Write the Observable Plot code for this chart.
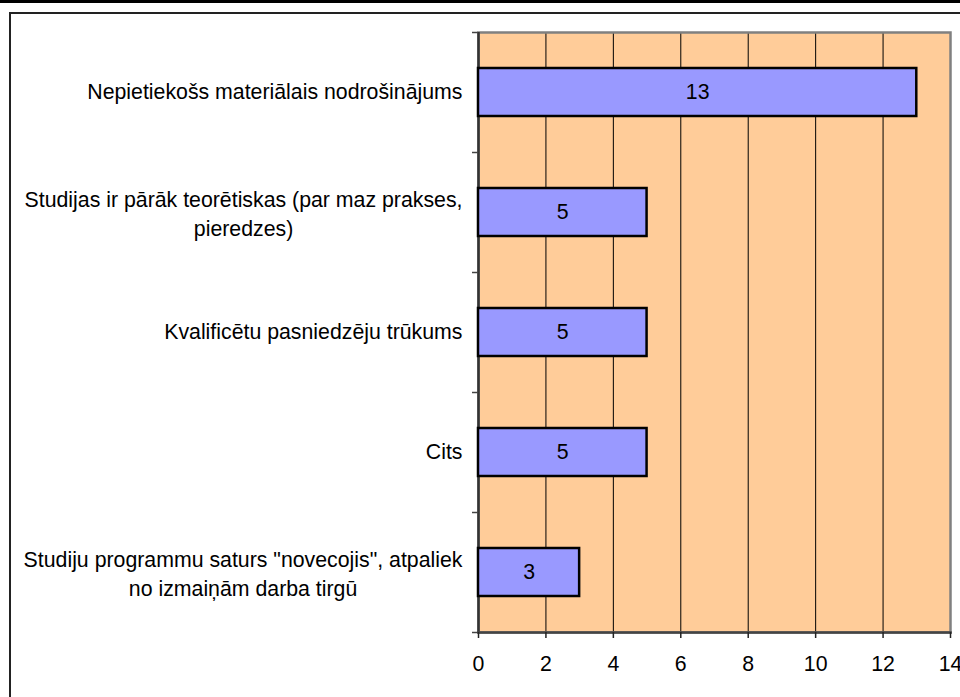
<!DOCTYPE html>
<html>
<head>
<meta charset="utf-8">
<script src="https://cdn.jsdelivr.net/npm/d3@7"></script>
<script src="https://cdn.jsdelivr.net/npm/@observablehq/plot@0.6"></script>
<style>
  html, body { margin: 0; padding: 0; background: #fff; overflow: hidden; }
  #wrap { position: relative; width: 960px; height: 697px; }
  #chart { position: absolute; left: 0; top: 0; }
  .topbar { position: absolute; left: 0; top: 0; width: 960px; height: 3px; background: #000; }
  .box { position: absolute; left: 9px; top: 12px; width: 1000px; height: 1000px;
         border-top: 2px solid #222; border-left: 2px solid #222; box-sizing: border-box; }
</style>
</head>
<body>
<div id="wrap">
  <div id="chart"></div>
  <div class="topbar"></div>
  <div class="box"></div>
</div>
<script>
const categories = [
  "Nepietiekošs materiālais nodrošinājums",
  "Studijas ir pārāk teorētiskas (par maz prakses,\npieredzes)",
  "Kvalificētu pasniedzēju trūkums",
  "Cits",
  "Studiju programmu saturs \"novecojis\", atpaliek\nno izmaiņām darba tirgū"
];
const values = [13, 5, 5, 5, 3];
const xTicks = [0, 2, 4, 6, 8, 10, 12, 14];
const gridTicks = [2, 4, 6, 8, 10, 12];

const data = categories.map((c, i) => ({category: c, value: values[i]}));

const FONT = "'Liberation Sans', Arial, sans-serif";
const FS = 21.3;
const ctx = document.createElement("canvas").getContext("2d");
ctx.font = `${FS}px ${FONT}`;
const gap = 16;

const labelMarks = categories.map(c => {
  const lines = c.split("\n");
  if (lines.length === 1) {
    return Plot.text([c], {y: d => d, text: d => d, frameAnchor: "left", textAnchor: "end", dx: -gap, fontSize: FS, fill: "#000"});
  }
  const w = Math.max(...lines.map(l => ctx.measureText(l).width));
  return Plot.text([c], {y: d => d, text: d => d, frameAnchor: "left", textAnchor: "middle", dx: -gap - w / 2, lineHeight: 1.33, fontSize: FS, fill: "#000"});
});

const last = categories[categories.length - 1];

const chart = Plot.plot({
  width: 960,
  height: 697,
  marginLeft: 478,
  marginRight: 10,
  marginTop: 32,
  marginBottom: 65,
  style: {fontFamily: FONT, fontSize: FS + "px", color: "#000", background: "transparent", overflow: "visible"},
  x: {domain: [0, 14], axis: null, label: null},
  y: {domain: categories, paddingInner: 0.6, paddingOuter: 0.3, axis: null, label: null},
  marks: [
    Plot.frame({fill: "#FFCC99"}),
    Plot.ruleX(gridTicks, {stroke: "#000", strokeWidth: 1}),
    Plot.frame({stroke: "#808080", strokeWidth: 2.5}),
    Plot.ruleX([0], {stroke: "#333", strokeWidth: 2.5}),
    Plot.frame({anchor: "bottom", stroke: "#444", strokeWidth: 2.5}),
    Plot.axisY(categories, {tickSize: 6, tickFormat: null, label: null, dy: -60, stroke: "#444", strokeWidth: 1.5}),
    Plot.axisY([last], {tickSize: 6, tickFormat: null, label: null, dy: 60, stroke: "#444", strokeWidth: 1.5}),
    Plot.axisX(xTicks, {tickSize: 6, tickPadding: 17, label: null, fontSize: FS, stroke: "#222", strokeWidth: 1.5, fill: "#000"}),
    Plot.barX(data, {y: "category", x: "value", fill: "#9999FF", stroke: "#000", strokeWidth: 2.5}),
    Plot.text(data, {y: "category", x: d => d.value / 2, text: d => String(d.value), fontSize: FS, fill: "#000"}),
    ...labelMarks
  ]
});
document.getElementById("chart").appendChild(chart);
</script>
</body>
</html>
